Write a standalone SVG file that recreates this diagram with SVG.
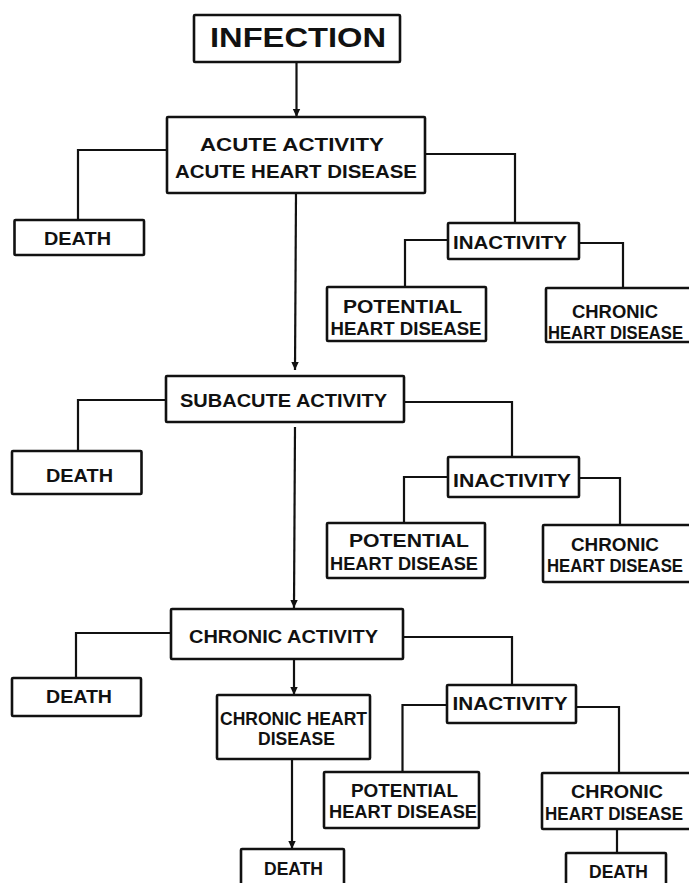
<svg xmlns="http://www.w3.org/2000/svg" width="689" height="883" viewBox="0 0 689 883">
  <style>
    .box { fill: #fff; stroke: #111; stroke-width: 2.6; }
    .ln { fill: none; stroke: #111; stroke-width: 2.2; }
    .t { font-family: "Liberation Sans", "DejaVu Sans", sans-serif; font-weight: bold; font-size: 19px; fill: #111; }
    .big { font-size: 27px; }
  </style>
  <defs>
    <marker id="arrow" markerUnits="userSpaceOnUse" markerWidth="8" markerHeight="9" refX="8" refY="4.5" orient="auto">
      <path d="M0,0.8 L8,4.5 L0,8.2 z" fill="#111"/>
    </marker>
  </defs>
  <rect width="689" height="883" fill="#fff"/>

  <g id="connectors">
    <!-- main stem -->
    <line class="ln" x1="296.5" y1="62" x2="296.5" y2="117" marker-end="url(#arrow)"/>
    <line class="ln" x1="296" y1="193" x2="295" y2="370" marker-end="url(#arrow)"/>
    <line class="ln" x1="295" y1="427" x2="294" y2="608" marker-end="url(#arrow)"/>
    <line class="ln" x1="294" y1="659" x2="294" y2="695" marker-end="url(#arrow)"/>
    <line class="ln" x1="292" y1="759" x2="292" y2="849" marker-end="url(#arrow)"/>

    <!-- acute level -->
    <polyline class="ln" points="167,150 78,150 78,220"/>
    <polyline class="ln" points="425,154 515,154 515,223"/>
    <polyline class="ln" points="448,240 405,240 405,287"/>
    <polyline class="ln" points="579,243 623,243 623,288"/>

    <!-- subacute level -->
    <polyline class="ln" points="166,400 78,400 78,451"/>
    <polyline class="ln" points="404,402 512,402 512,457"/>
    <polyline class="ln" points="448,477 404,477 404,523"/>
    <polyline class="ln" points="579,478 620,478 620,525"/>

    <!-- chronic level -->
    <polyline class="ln" points="171,633 76,633 76,678"/>
    <polyline class="ln" points="403,637 512,637 512,685"/>
    <polyline class="ln" points="447,705 402.5,705 402.5,772"/>
    <polyline class="ln" points="576,707 619,707 619,773"/>
    <line class="ln" x1="617" y1="829" x2="617" y2="853"/>
  </g>

  <g id="infection">
    <rect class="box" x="194" y="15" width="206" height="47" rx="1"/>
    <text class="t big" x="210" y="47" textLength="176" lengthAdjust="spacingAndGlyphs">INFECTION</text>
  </g>

  <g id="acute-activity">
    <rect class="box" x="167" y="117" width="258" height="76" rx="1"/>
    <text class="t" x="200" y="151" textLength="184" lengthAdjust="spacingAndGlyphs">ACUTE ACTIVITY</text>
    <text class="t" x="175" y="178" textLength="242" lengthAdjust="spacingAndGlyphs">ACUTE HEART DISEASE</text>
  </g>
  <g id="acute-death">
    <rect class="box" x="14.5" y="220" width="129.5" height="35" rx="1"/>
    <text class="t" x="44" y="245" textLength="67" lengthAdjust="spacingAndGlyphs">DEATH</text>
  </g>
  <g id="acute-inactivity">
    <rect class="box" x="448" y="223" width="131" height="36" rx="1"/>
    <text class="t" x="453" y="249" textLength="114" lengthAdjust="spacingAndGlyphs">INACTIVITY</text>
  </g>
  <g id="acute-potential">
    <rect class="box" x="327" y="287" width="159" height="54" rx="1"/>
    <text class="t" x="343" y="313" textLength="119" lengthAdjust="spacingAndGlyphs">POTENTIAL</text>
    <text class="t" x="330.5" y="335" textLength="151" lengthAdjust="spacingAndGlyphs">HEART DISEASE</text>
  </g>
  <g id="acute-chronic">
    <rect class="box" x="546" y="288" width="150" height="54" rx="1"/>
    <text class="t" x="572" y="318" textLength="86" lengthAdjust="spacingAndGlyphs">CHRONIC</text>
    <text class="t" x="548" y="339" textLength="135" lengthAdjust="spacingAndGlyphs">HEART DISEASE</text>
  </g>

  <g id="subacute-activity">
    <rect class="box" x="166" y="376" width="238" height="46" rx="1"/>
    <text class="t" x="180" y="407" textLength="207" lengthAdjust="spacingAndGlyphs">SUBACUTE ACTIVITY</text>
  </g>
  <g id="subacute-death">
    <rect class="box" x="12" y="451" width="129.5" height="43" rx="1"/>
    <text class="t" x="46" y="482" textLength="67" lengthAdjust="spacingAndGlyphs">DEATH</text>
  </g>
  <g id="subacute-inactivity">
    <rect class="box" x="448" y="457" width="131" height="40" rx="1"/>
    <text class="t" x="453" y="487" textLength="118" lengthAdjust="spacingAndGlyphs">INACTIVITY</text>
  </g>
  <g id="subacute-potential">
    <rect class="box" x="327" y="523" width="158" height="55" rx="1"/>
    <text class="t" x="349" y="547" textLength="120" lengthAdjust="spacingAndGlyphs">POTENTIAL</text>
    <text class="t" x="330" y="570" textLength="148" lengthAdjust="spacingAndGlyphs">HEART DISEASE</text>
  </g>
  <g id="subacute-chronic">
    <rect class="box" x="543" y="525" width="153" height="57" rx="1"/>
    <text class="t" x="571" y="551" textLength="88" lengthAdjust="spacingAndGlyphs">CHRONIC</text>
    <text class="t" x="547" y="572" textLength="136" lengthAdjust="spacingAndGlyphs">HEART DISEASE</text>
  </g>

  <g id="chronic-activity">
    <rect class="box" x="171" y="609" width="232" height="50" rx="1"/>
    <text class="t" x="189" y="643" textLength="189" lengthAdjust="spacingAndGlyphs">CHRONIC ACTIVITY</text>
  </g>
  <g id="chronic-death">
    <rect class="box" x="12" y="678" width="129" height="38" rx="1"/>
    <text class="t" x="46" y="703" textLength="66" lengthAdjust="spacingAndGlyphs">DEATH</text>
  </g>
  <g id="chronic-heart-disease">
    <rect class="box" x="217" y="695" width="153" height="64" rx="1"/>
    <text class="t" x="220" y="725" textLength="147" lengthAdjust="spacingAndGlyphs">CHRONIC HEART</text>
    <text class="t" x="258" y="745" textLength="77" lengthAdjust="spacingAndGlyphs">DISEASE</text>
  </g>
  <g id="chronic-heart-disease-death">
    <rect class="box" x="241" y="849" width="103" height="40" rx="1"/>
    <text class="t" x="264" y="875" textLength="59" lengthAdjust="spacingAndGlyphs">DEATH</text>
  </g>
  <g id="chronic-inactivity">
    <rect class="box" x="447" y="685" width="129" height="38" rx="1"/>
    <text class="t" x="452.5" y="710" textLength="115" lengthAdjust="spacingAndGlyphs">INACTIVITY</text>
  </g>
  <g id="chronic-potential">
    <rect class="box" x="324" y="772" width="155" height="56" rx="1"/>
    <text class="t" x="351" y="797" textLength="107" lengthAdjust="spacingAndGlyphs">POTENTIAL</text>
    <text class="t" x="329" y="818" textLength="148" lengthAdjust="spacingAndGlyphs">HEART DISEASE</text>
  </g>
  <g id="chronic-chronic">
    <rect class="box" x="542" y="773" width="154" height="56" rx="1"/>
    <text class="t" x="571" y="798" textLength="92" lengthAdjust="spacingAndGlyphs">CHRONIC</text>
    <text class="t" x="545" y="820" textLength="138" lengthAdjust="spacingAndGlyphs">HEART DISEASE</text>
  </g>
  <g id="chronic-chronic-death">
    <rect class="box" x="566" y="853" width="100" height="40" rx="1"/>
    <text class="t" x="589" y="878" textLength="59" lengthAdjust="spacingAndGlyphs">DEATH</text>
  </g>
</svg>
